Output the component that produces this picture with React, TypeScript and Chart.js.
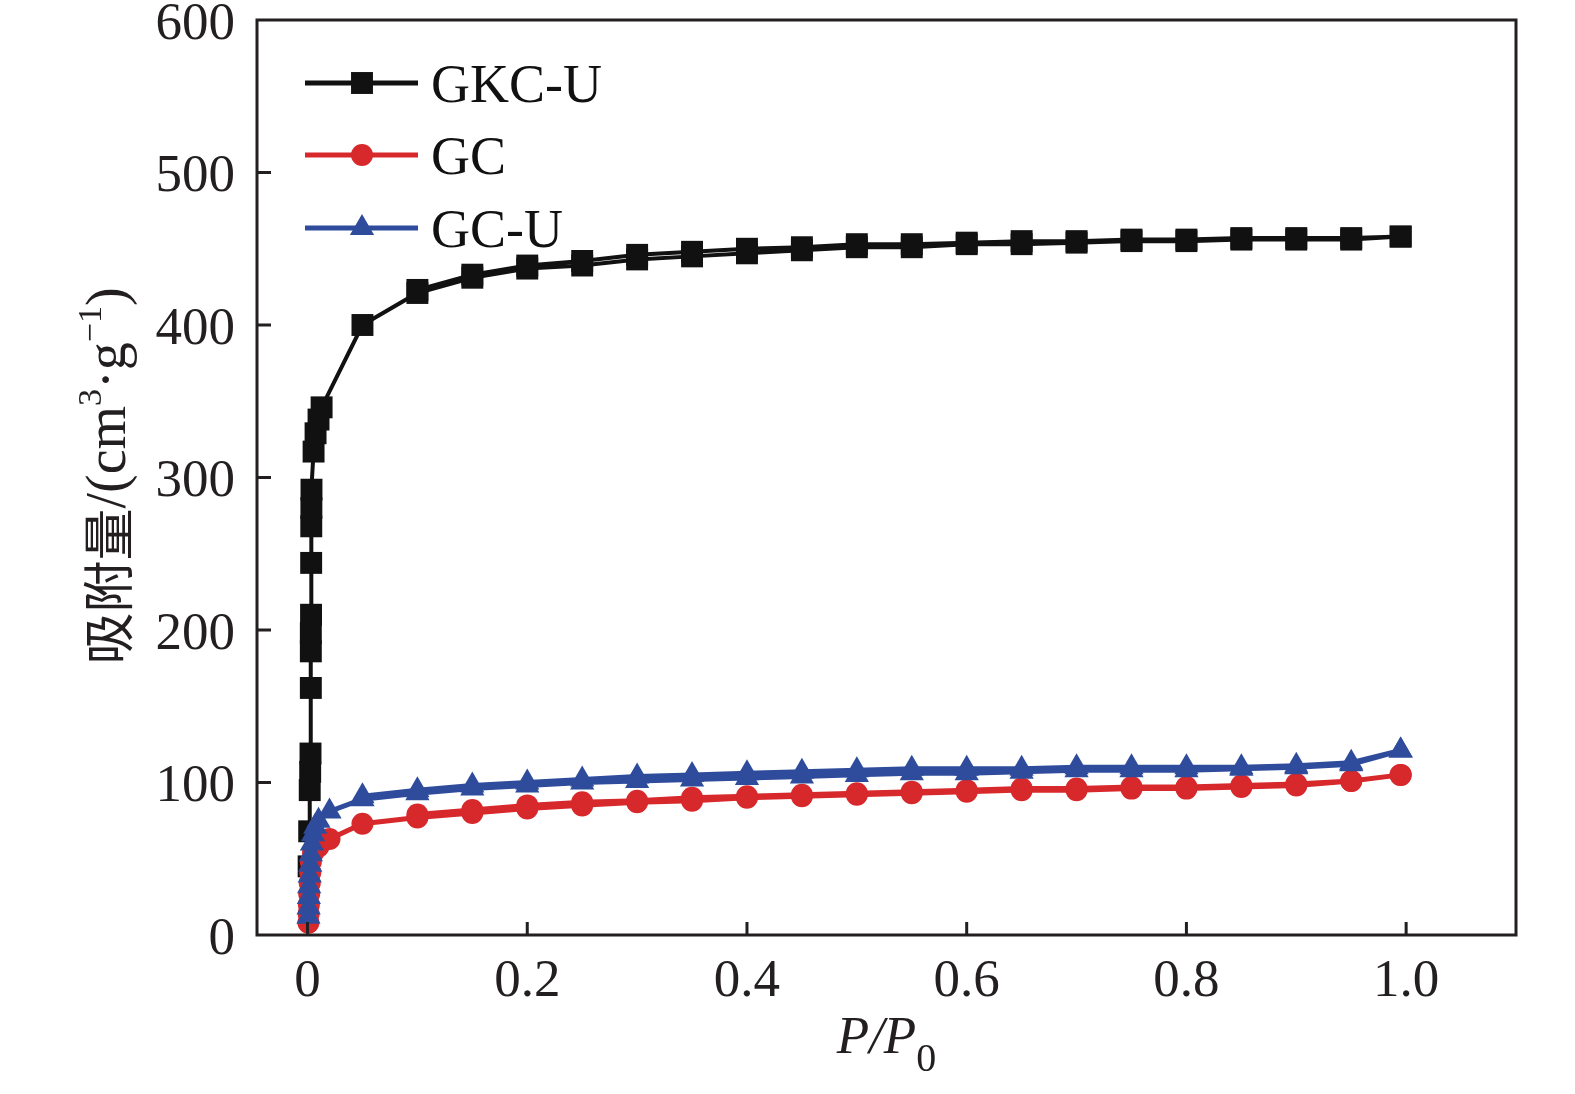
import React, { useEffect, useRef } from 'react';
import { Chart, registerables } from 'chart.js';
import { drawPoint } from 'chart.js/helpers';

Chart.register(...registerables);

// ---------- data ----------
const xTickValues = [0, 0.2, 0.4, 0.6, 0.8, 1.0];
const yTickValues = [0, 100, 200, 300, 400, 500, 600];

const plateauX = [0.05, 0.1, 0.15, 0.2, 0.25, 0.3, 0.35, 0.4, 0.45, 0.5, 0.55, 0.6, 0.65, 0.7, 0.75, 0.8, 0.85, 0.9, 0.95, 0.995];

// GKC-U
const gkcuLowX = [0.001, 0.0015, 0.002, 0.0024, 0.0027, 0.003, 0.003, 0.003, 0.0032, 0.0033, 0.0034, 0.0035, 0.0036, 0.0055, 0.0073, 0.01, 0.0128];
const gkcuLowY = [45, 68, 95, 107, 119, 162, 186, 198, 210, 244, 268, 280, 292, 317, 329, 338, 346];
const gkcuAdsY = [400, 421, 431, 437, 439, 443, 445, 447, 449, 451, 451, 453, 453, 454, 455, 455, 456, 456, 456, 458];
const gkcuDesX = [0.995, 0.95, 0.9, 0.85, 0.8, 0.75, 0.7, 0.65, 0.6, 0.55, 0.5, 0.45, 0.4, 0.35, 0.3, 0.25, 0.2, 0.15, 0.1];
const gkcuDesY = [458, 457, 457, 457, 456, 456, 455, 455, 454, 453, 453, 451, 450, 448, 446, 442, 439, 433, 423];

// GC
const gcLowX = [0.0008, 0.001, 0.0012, 0.0015, 0.002, 0.0025, 0.003, 0.005, 0.01, 0.02];
const gcLowY = [8, 14, 20, 27, 34, 41, 48, 54, 58, 63];
const gcAdsY = [73, 77, 80, 83, 85, 87, 88, 90, 91, 92, 93, 94, 95, 95, 96, 96, 97, 98, 101, 105];
const gcDesX = [0.995, 0.95, 0.9, 0.85, 0.8, 0.75, 0.7, 0.65, 0.6, 0.55, 0.5, 0.45, 0.4, 0.35, 0.3, 0.25, 0.2, 0.15, 0.1];
const gcDesY = [105, 101, 99, 98, 97, 97, 96, 96, 95, 94, 93, 92, 91, 90, 88, 87, 85, 82, 79];

// GC-U
const gcuLowX = [0.0008, 0.001, 0.0012, 0.0015, 0.002, 0.0025, 0.003, 0.004, 0.005, 0.007, 0.01, 0.02];
const gcuLowY = [12, 18, 25, 32, 39, 46, 53, 60, 66, 71, 75, 81];
const gcuAdsY = [89, 93, 96, 98, 100, 101, 102, 103, 104, 105, 106, 106, 107, 108, 108, 108, 109, 110, 112, 121];
const gcuDesX = [0.995, 0.95, 0.9, 0.85, 0.8, 0.75, 0.7, 0.65, 0.6, 0.55, 0.5, 0.45, 0.4, 0.35, 0.3, 0.25, 0.2, 0.15, 0.1, 0.05];
const gcuDesY = [121, 113, 111, 110, 110, 110, 110, 109, 109, 109, 108, 107, 106, 105, 104, 102, 100, 98, 95, 91];

const seriesLabels = ['GKC-U', 'GC', 'GC-U'];

// ---------- helpers ----------
function loop(lowX: number[], lowY: number[], adsY: number[], desX: number[], desY: number[]) {
  const pts: { x: number; y: number }[] = [];
  lowX.forEach((x, i) => pts.push({ x, y: lowY[i] }));
  plateauX.forEach((x, i) => pts.push({ x, y: adsY[i] }));
  desX.forEach((x, i) => pts.push({ x, y: desY[i] }));
  return pts;
}

const INK = '#231f20';
const SERIF = '"Liberation Serif", "Times New Roman", serif';
const CJK = '"Noto Sans CJK SC", sans-serif';

const styles = [
  { color: '#111111', pointStyle: 'rect', radius: 15.5, line: 4, order: 2 },
  { color: '#d7282c', pointStyle: 'circle', radius: 11, line: 5, order: 1 },
  { color: '#2f4c9c', pointStyle: 'triangle', radius: 14, line: 5, order: 0 },
];

type Seg = { text: string; font: string; dy: number };

function drawSegs(ctx: CanvasRenderingContext2D, segs: Seg[], centered: boolean) {
  let total = 0;
  const widths = segs.map((s) => {
    ctx.font = s.font;
    const w = ctx.measureText(s.text).width;
    total += w;
    return w;
  });
  let x = centered ? -total / 2 : 0;
  segs.forEach((s, i) => {
    ctx.font = s.font;
    ctx.fillText(s.text, x, s.dy);
    x += widths[i];
  });
}

const framePlugin = {
  id: 'frameAndTitles',
  afterDraw(chart: any) {
    const { ctx, chartArea, scales } = chart;
    const { left, right, top, bottom } = chartArea;
    ctx.save();
    // frame
    ctx.strokeStyle = INK;
    ctx.lineWidth = 3;
    ctx.strokeRect(left, top, right - left, bottom - top);
    // inside ticks
    ctx.beginPath();
    xTickValues.forEach((v) => {
      const px = scales.x.getPixelForValue(v);
      ctx.moveTo(px, bottom);
      ctx.lineTo(px, bottom - 13);
    });
    yTickValues.forEach((v) => {
      if (v === 0 || v === 600) return;
      const py = scales.y.getPixelForValue(v);
      ctx.moveTo(left, py);
      ctx.lineTo(left + 14, py);
    });
    ctx.stroke();

    // x title  P/P0
    ctx.fillStyle = INK;
    ctx.textBaseline = 'alphabetic';
    ctx.textAlign = 'left';
    ctx.save();
    ctx.translate((left + right) / 2, 1053);
    drawSegs(ctx, [
      { text: 'P/P', font: `italic 53px ${SERIF}`, dy: 0 },
      { text: '0', font: `40px ${SERIF}`, dy: 18 },
    ], true);
    ctx.restore();

    // y title
    ctx.save();
    ctx.translate(125, 476);
    ctx.rotate(-Math.PI / 2);
    drawSegs(ctx, [
      { text: '吸附量', font: `52px ${CJK}`, dy: 3 },
      { text: '/(cm', font: `56px ${SERIF}`, dy: 0 },
      { text: '3', font: `34px ${SERIF}`, dy: -24 },
      { text: '·g', font: `56px ${SERIF}`, dy: 0 },
      { text: '−1', font: `34px ${SERIF}`, dy: -24 },
      { text: ')', font: `56px ${SERIF}`, dy: 0 },
    ], true);
    ctx.restore();

    // legend
    const rows = [83, 155, 228];
    chart.data.datasets.forEach((ds: any, i: number) => {
      const y = rows[i];
      const st = styles[i];
      ctx.strokeStyle = st.color;
      ctx.fillStyle = st.color;
      ctx.lineWidth = 5;
      ctx.beginPath();
      ctx.moveTo(305, y);
      ctx.lineTo(418, y);
      ctx.stroke();
      drawPoint(ctx, { pointStyle: st.pointStyle as any, rotation: 0, radius: st.radius, borderWidth: 0 }, 362, y);
      ctx.fillStyle = '#111111';
      ctx.font = `54px ${SERIF}`;
      ctx.fillText(ds.label, 431, y + 19);
    });
    ctx.restore();
  },
};

export default function App() {
  const ref = useRef<HTMLCanvasElement | null>(null);

  useEffect(() => {
    if (!ref.current) return;
    const datasets = [
      loop(gkcuLowX, gkcuLowY, gkcuAdsY, gkcuDesX, gkcuDesY),
      loop(gcLowX, gcLowY, gcAdsY, gcDesX, gcDesY),
      loop(gcuLowX, gcuLowY, gcuAdsY, gcuDesX, gcuDesY),
    ].map((data, i) => ({
      label: seriesLabels[i],
      data,
      order: styles[i].order,
      borderColor: styles[i].color,
      backgroundColor: styles[i].color,
      borderWidth: styles[i].line,
      pointStyle: styles[i].pointStyle,
      pointRadius: styles[i].radius,
      pointBorderWidth: 0,
      pointBackgroundColor: styles[i].color,
      showLine: true,
      tension: 0,
      clip: false as any,
    }));
    const chart = new Chart(ref.current, {
      type: 'line',
      data: { datasets: datasets as any },
      options: {
        animation: false,
        responsive: false,
        devicePixelRatio: 1,
        layout: { padding: { left: 0, top: 20, right: 59, bottom: 0 } },
        plugins: { legend: { display: false }, tooltip: { enabled: false } },
        scales: {
          x: {
            type: 'linear',
            min: -0.046,
            max: 1.1,
            grid: { display: false },
            border: { display: false },
            afterBuildTicks: (s: any) => {
              s.ticks = xTickValues.map((v) => ({ value: v }));
            },
            afterFit: (s: any) => {
              s.height = 159;
              s.paddingLeft = 0;
              s.paddingRight = 0;
              s.paddingTop = 0;
              s.paddingBottom = 0;
            },
            ticks: {
              autoSkip: false,
              maxRotation: 0,
              padding: 7,
              color: INK,
              font: { family: SERIF, size: 53 },
              callback: (v: any) => (Number(v) === 0 ? '0' : Number(v).toFixed(1)),
            },
          },
          y: {
            type: 'linear',
            min: 0,
            max: 600,
            grid: { display: false },
            border: { display: false },
            afterBuildTicks: (s: any) => {
              s.ticks = yTickValues.map((v) => ({ value: v }));
            },
            afterFit: (s: any) => {
              s.width = 257;
              s.paddingLeft = 0;
              s.paddingRight = 0;
              s.paddingTop = 0;
              s.paddingBottom = 0;
            },
            ticks: {
              autoSkip: false,
              padding: 14,
              labelOffset: 5,
              color: INK,
              font: { family: SERIF, size: 53 },
              callback: (v: any) => String(v),
            },
          },
        },
      },
      plugins: [framePlugin],
    });
    return () => chart.destroy();
  }, []);

  return (
    <div style={{ position: 'fixed', left: 0, top: 0, width: 1575, height: 1094, background: '#fff' }}>
      <canvas ref={ref} width={1575} height={1094} style={{ display: 'block' }} />
    </div>
  );
}
